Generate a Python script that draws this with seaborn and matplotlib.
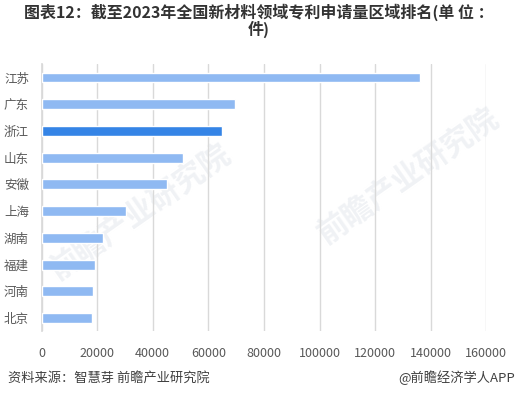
import seaborn as sns
import pandas as pd
import matplotlib.pyplot as plt

provinces = ["江苏", "广东", "浙江", "山东", "安徽", "上海", "湖南", "福建", "河南", "北京"]
patents = [136000, 69500, 64800, 50900, 45100, 30300, 22000, 19200, 18500, 18100]
highlight = "浙江"
xticks = [0, 20000, 40000, 60000, 80000, 100000, 120000, 140000, 160000]

sns.set_theme(style="white")
plt.rcParams["font.family"] = ["Noto Sans CJK SC", "DejaVu Sans"]

data = pd.DataFrame({"province": provinces, "count": patents})
data["group"] = ["hi" if p == highlight else "lo" for p in provinces]

fig = plt.figure(figsize=[5.17, 3.99], dpi=100)
ax = fig.add_axes([41.5 / 517, 1 - 331.4 / 399, (486.3 - 41.5) / 517, (331.4 - 64.1) / 399])
ax.set_zorder(2)
ax.patch.set_alpha(0)

# faint watermarks behind the chart
for wx, wy in [(0.27, 0.47), (0.79, 0.56)]:
    fig.text(wx, wy, "前瞻产业研究院", fontsize=22, color="#F0F2F5", rotation=35,
             ha="center", va="center", fontweight="bold", zorder=1)

sns.barplot(data=data, y="province", x="count", hue="group",
            palette={"hi": "#3584E6", "lo": "#8FB9F2"},
            order=provinces, width=0.37, dodge=False, legend=False,
            saturation=1, ax=ax, zorder=3)

ax.set_xlim(0, 160000)
ax.set_ylim(9.5, -0.5)
ax.set_xticks(xticks)
ax.set_xticklabels([str(t) for t in xticks])
ax.xaxis.grid(True, color="#D9D9D9", linewidth=1)
ax.set_axisbelow(True)
for s in ["top", "right", "bottom"]:
    ax.spines[s].set_visible(False)
ax.spines["left"].set_color("#D9D9D9")
ax.tick_params(axis="both", length=0, labelsize=9, colors="#595959")
ax.tick_params(axis="y", pad=9)
ax.tick_params(axis="x", pad=11)
ax.set_xlabel("")
ax.set_ylabel("")

fig.text(0.5, 0.948, "图表12：截至2023年全国新材料领域专利申请量区域排名(单 位 ：\n件)",
         ha="center", va="center", fontsize=11.5, fontweight="bold",
         color="#333333", linespacing=1.0)
fig.text(8 / 517, 1 - 378 / 399, "资料来源：智慧芽 前瞻产业研究院",
         ha="left", va="center", fontsize=9.5, color="#404040")
fig.text(515 / 517, 1 - 378 / 399, "@前瞻经济学人APP",
         ha="right", va="center", fontsize=9.5, color="#404040")

fig.savefig("out.png", dpi=100)
